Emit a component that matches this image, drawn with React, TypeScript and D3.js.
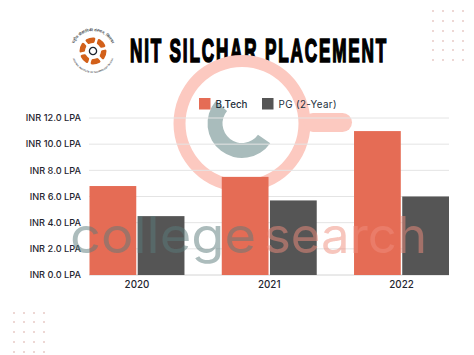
import React from "react";
import * as d3 from "d3";

const years = ["2020", "2021", "2022"];
const seriesNames = ["B.Tech", "PG (2-Year)"];
const btech = [6.8, 7.5, 11];
const pg = [4.5, 5.7, 6];
const yTicks = [0, 2, 4, 6, 8, 10, 12];
const seriesColors = ["#e56c55", "#555555"];
const dotsTopX = [433, 443, 453, 463];
const dotsTopY = [11, 21, 31, 41, 50, 60];
const dotsBottomX = [14, 24, 34, 44];
const dotsBottomY = [313, 322, 332, 342, 352];
const logoSegments = [1, 1, 1, 1, 1, 1];

const W = 474;
const H = 355;
const x0 = d3.scaleBand<string>().domain(years).range([89.5, 449]).paddingInner(0.282).paddingOuter(0);
const x1 = d3.scaleBand<string>().domain(seriesNames).range([0, x0.bandwidth()]).paddingInner(0.03);
const y = d3.scaleLinear().domain([0, 12]).range([275, 118]);

const ringArc = d3.arc<any>().innerRadius(56.5).outerRadius(68.5);
const cArc = d3.arc<any>().innerRadius(19.5).outerRadius(34.5).startAngle((125 * Math.PI) / 180).endAngle((310 * Math.PI) / 180);
const logoPie = d3.pie<number>().sort(null).padAngle(0.16)(logoSegments);
const logoArc = d3.arc<any>().innerRadius(8).outerRadius(13.5).cornerRadius(1.5);

const font = "Inter, 'Open Sans', sans-serif";

export default function App() {
  return (
    <svg width={W} height={H} viewBox={`0 0 ${W} ${H}`} style={{ position: "absolute", left: 0, top: 0, display: "block", background: "#fff" }}>
      <defs>
        <path id="logoTop" d="M 73.5 58 A 20.5 20.5 0 1 1 112.5 58" />
        <path id="logoBottom" d="M 72.5 58 A 21.5 21.5 0 0 0 113.5 58" />
        <filter id="soft" x="-5%" y="-5%" width="110%" height="110%">
          <feGaussianBlur stdDeviation="0.6" />
        </filter>
      </defs>
      {/* dotted decorations */}
      {dotsTopX.flatMap((dx) => dotsTopY.map((dy) => <circle key={`t${dx}-${dy}`} cx={dx} cy={dy} r={0.8} fill="#c9877c" opacity={0.75} />))}
      {dotsBottomX.flatMap((dx) => dotsBottomY.map((dy) => <circle key={`b${dx}-${dy}`} cx={dx} cy={dy} r={0.8} fill="#c9877c" opacity={0.75} />))}

      {/* logo */}
      <g transform="translate(93,51)">
        {logoPie.map((p, i) => (
          <path key={i} d={logoArc({ ...p, startAngle: p.startAngle + 0.3, endAngle: p.endAngle + 0.3 }) as string} fill="#d2601a" />
        ))}
        <circle r={3.6} fill="#fff" stroke="#1c2430" strokeWidth={1.3} />
      </g>
      <text fontFamily="'Noto Sans', 'Liberation Sans', sans-serif" fontSize={3.8} fill="#3a3f46" fontWeight={600}>
        <textPath href="#logoTop" startOffset="50%" textAnchor="middle">राष्ट्रीय प्रौद्योगिकी संस्थान, सिलचर</textPath>
      </text>
      <text fontFamily="'Liberation Sans', sans-serif" fontSize={2.3} fill="#3a3f46" fontWeight={700}>
        <textPath href="#logoBottom" startOffset="50%" textAnchor="middle">NATIONAL INSTITUTE OF TECHNOLOGY SILCHAR</textPath>
      </text>

      {/* title */}
      <text x={130} y={62} textLength={258} lengthAdjust="spacingAndGlyphs" letterSpacing={3.5} fontFamily="'Liberation Sans', sans-serif" fontWeight={700} fontSize={33} fill="#000" stroke="#000" strokeWidth={1.7}>
        NIT SILCHAR PLACEMENT
      </text>

      {/* watermark magnifier */}
      <g transform="translate(242,123.5)">
        <path d={ringArc({ startAngle: 0, endAngle: Math.PI * 2 }) as string} fill="#fcc9c0" />
        <path d={cArc({}) as string} fill="#a9bcbc" />
      </g>
      <line x1={313} x2={342.5} y1={122.5} y2={122.5} stroke="#fcc9c0" strokeWidth={19} strokeLinecap="round" />

      {/* grid */}
      {yTicks.map((t) => (
        <line key={t} x1={89} x2={449} y1={y(t)} y2={y(t)} stroke={t === 0 ? "#d4d4d4" : "#e4e4e4"} strokeWidth={1} />
      ))}
      {yTicks.map((t) => (
        <text key={t} x={81} y={y(t)} dy="0.35em" textAnchor="end" fontFamily={font} fontWeight={500} fontSize={9.2} fill="#1f2630">
          {`INR ${t.toFixed(1)} LPA`}
        </text>
      ))}

      {/* bars */}
      {years.map((yr, i) => (
        <g key={yr} transform={`translate(${x0(yr)},0)`}>
          {[btech[i], pg[i]].map((v, s) => (
            <rect key={s} x={x1(seriesNames[s])} y={y(v)} width={x1.bandwidth()} height={y(0) - y(v)} fill={seriesColors[s]} />
          ))}
          <text x={x0.bandwidth() / 2} y={287.5} textAnchor="middle" fontFamily={font} fontWeight={500} fontSize={9.8} fill="#1f2630">{yr}</text>
        </g>
      ))}

      {/* legend */}
      <rect x={199} y={98} width={11.5} height={11.5} fill={seriesColors[0]} />
      <text x={215.5} y={107.5} fontFamily={font} fontSize={9.8} fontWeight={500} fill="#24303c" textLength={32}>{seriesNames[0]}</text>
      <rect x={262} y={98} width={11.5} height={11.5} fill={seriesColors[1]} />
      <text x={278.5} y={107.5} fontFamily={font} fontSize={9.8} fontWeight={400} fill="#24303c" textLength={58}>{seriesNames[1]}</text>

      {/* watermark text */}
      <g filter="url(#soft)">
        <text x={70} y={253} fontFamily={font} fontSize={50} fontWeight={400} fill="#5a7a7a" opacity={0.5} textLength={186} lengthAdjust="spacingAndGlyphs">college</text>
        <text x={264} y={253} fontFamily={font} fontSize={50} fontWeight={400} fill="#ef8d7c" opacity={0.5} textLength={163} lengthAdjust="spacingAndGlyphs">search</text>
      </g>
    </svg>
  );
}
